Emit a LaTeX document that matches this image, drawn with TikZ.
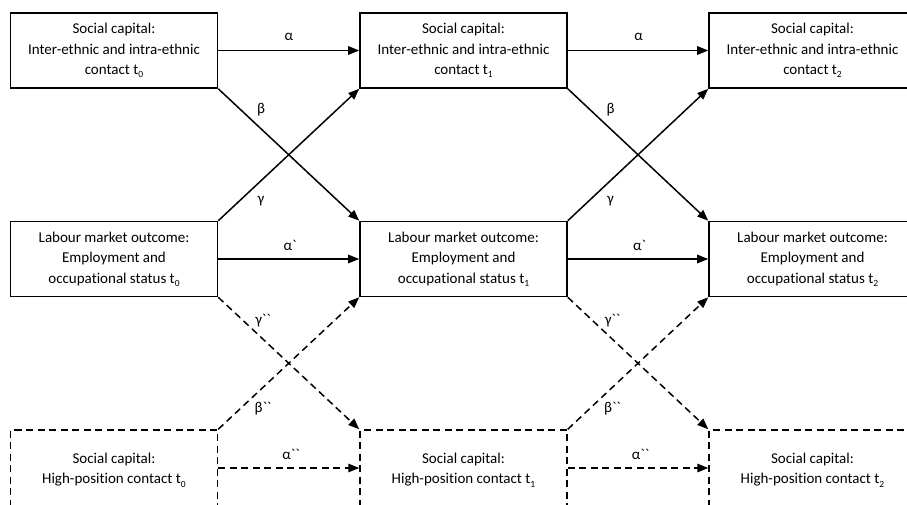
\documentclass[tikz,border=0pt]{standalone}
\usepackage{fontspec}
\setmainfont{Carlito}[Ligatures={TeXOff,NoCommon}]
\usetikzlibrary{arrows.meta}
\newcommand{\gr}{\char96\relax}
\newcommand{\sbs}[1]{\raisebox{-0.45ex}{\fontsize{9.5}{9.5}\selectfont #1}}
\begin{document}
\begin{tikzpicture}[x=1pt,y=-1pt,
  box/.style={draw, line width=1.6pt, minimum width=207pt, minimum height=75pt,
    align=center, inner sep=0pt, font=\fontsize{15}{20.5}\selectfont},
  dbox/.style={box, line width=1.5pt, minimum height=80pt, dash pattern=on 7pt off 4.5pt},
  arr/.style={line width=1.5pt, -{Triangle[length=11pt,width=8.5pt]}},
  darr/.style={arr, dash pattern=on 7pt off 4.5pt},
  lab/.style={font=\fontsize{15}{18}\selectfont, inner sep=0pt}]
\path[use as bounding box, clip] (0,0) rectangle (907,504);

\node[box] (A1) at (114,50.5) {Social capital:\\Inter-ethnic and intra-ethnic\\contact t\sbs{0}};
\node[box] (A2) at (463.5,50.5) {Social capital:\\Inter-ethnic and intra-ethnic\\contact t\sbs{1}};
\node[box] (A3) at (812.5,50.5) {Social capital:\\Inter-ethnic and intra-ethnic\\contact t\sbs{2}};

\node[box] (B1) at (114,259) {Labour market outcome:\\Employment and\\occupational status t\sbs{0}};
\node[box] (B2) at (463.5,259) {Labour market outcome:\\Employment and\\occupational status t\sbs{1}};
\node[box] (B3) at (812.5,259) {Labour market outcome:\\Employment and\\occupational status t\sbs{2}};

\node[dbox] (C1) at (114,470) {Social capital:\\High-position contact t\sbs{0}};
\node[dbox] (C2) at (463.5,470) {Social capital:\\High-position contact t\sbs{1}};
\node[dbox] (C3) at (812.5,470) {Social capital:\\High-position contact t\sbs{2}};

% first interval
\draw[arr] (A1.east) -- (A2.west);
\draw[arr] (A1.south east) -- (B2.north west);
\draw[arr] (B1.north east) -- (A2.south west);
\draw[arr] (B1.east) -- (B2.west);
\draw[darr] (B1.south east) -- (C2.north west);
\draw[darr] (C1.north east) -- (B2.south west);
\draw[darr] ([yshift=2pt]C1.east) -- ([yshift=2pt]C2.west);

% second interval
\draw[arr] (A2.east) -- (A3.west);
\draw[arr] (A2.south east) -- (B3.north west);
\draw[arr] (B2.north east) -- (A3.south west);
\draw[arr] (B2.east) -- (B3.west);
\draw[darr] (B2.south east) -- (C3.north west);
\draw[darr] (C2.north east) -- (B3.south west);
\draw[darr] ([yshift=2pt]C2.east) -- ([yshift=2pt]C3.west);

% labels
\node[lab] (la1) at (289,37) {α};
\node[lab] (lb1) at (261,110) {β};
\node[lab] (lg1) at (261,201) {γ};
\node[lab] (lap1) at (290,245) {α\gr};
\node[lab] (lgp1) at (263,321) {γ\gr\gr};
\node[lab] (lbp1) at (263,409) {β\gr\gr};
\node[lab] (lapp1) at (291,454) {α\gr\gr};

\node[lab] (la2) at (638.5,37) {α};
\node[lab] (lb2) at (610.5,110) {β};
\node[lab] (lg2) at (610.5,201) {γ};
\node[lab] (lap2) at (639.5,245) {α\gr};
\node[lab] (lgp2) at (612.5,321) {γ\gr\gr};
\node[lab] (lbp2) at (612.5,409) {β\gr\gr};
\node[lab] (lapp2) at (640.5,454) {α\gr\gr};
\end{tikzpicture}
\end{document}
